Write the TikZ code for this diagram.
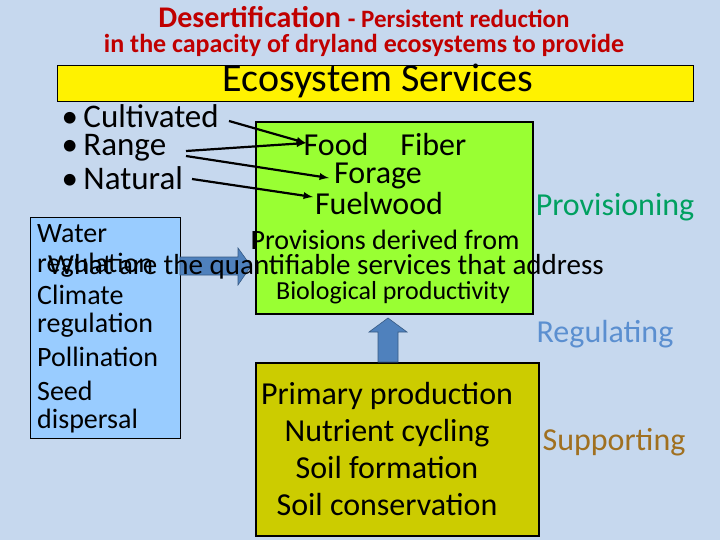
\documentclass[tikz,border=0pt]{standalone}
\usepackage{fontspec}
\setmainfont{Carlito}
\definecolor{bg}{HTML}{C6D8EE}
\definecolor{ttl}{HTML}{C00000}
\definecolor{grn}{HTML}{99FF33}
\definecolor{olv}{HTML}{CCCC00}
\definecolor{lblue}{HTML}{99CCFF}
\definecolor{arrb}{HTML}{4F81BD}
\definecolor{prov}{HTML}{00A060}
\definecolor{regc}{HTML}{5B8FD0}
\definecolor{supc}{HTML}{A07020}
\tikzset{fs/.style={font=\fontsize{#1}{#1}\selectfont},
 box/.style={draw=black,line width=2pt,anchor=north west,inner sep=0pt},
 lk/.style={-latex,line width=2.2pt},
 barrow/.style={draw=arrb!70!black,fill=arrb,line width=0.6pt}}
\begin{document}
\begin{tikzpicture}[x=1pt,y=-1pt]
\fill[bg] (0,0) rectangle (720,540);
\useasboundingbox (0,0) rectangle (720,540);
\node[fs=30,text=ttl] (t1) at (364,17) {\textbf{Desertification} \fontsize{25}{25}\selectfont\textbf{- Persistent reduction}};
\node[fs=26,text=ttl] (t2) at (364,45) {\textbf{in the capacity of dryland ecosystems to provide}};
\node[box,fill=yellow,line width=1pt,minimum width=636pt,minimum height=36pt] (ybox) at (57,65) {};
\node[fs=40] (es) at (378,81) {Ecosystem Services};
\node[box,fill=grn,minimum width=277pt,minimum height=192pt] (gbox) at (255,121) {};
\node[box,fill=olv,minimum width=283pt,minimum height=173pt] (obox) at (255,362) {};
\node[box,fill=lblue,line width=0.6pt,minimum width=150pt,minimum height=221pt] (bbox) at (30,217) {};
\node[fs=33,anchor=west] (cu) at (58,116) {\textbullet\,Cultivated};
\node[fs=33,anchor=west] (ra) at (58,148) {\textbullet\,Range};
\node[fs=33,anchor=west] (na) at (58,178) {\textbullet\,Natural};
\node[fs=32] (food) at (385,145) {Food\quad Fiber};
\node[fs=32] (forage) at (378,176) {Forage};
\node[fs=32] (fuel) at (379,204) {Fuelwood};
\coordinate (fo) at (306,143);
\coordinate (fg) at (329,178);
\coordinate (fw) at (313,197);
\draw[lk] (229,121) -- (fo);
\draw[lk] (186,151) -- (fo);
\draw[lk] (186,156) -- (fg);
\draw[lk] (192,179) -- (fw);
\node[fs=32,text=prov] (pv) at (615,207) {Provisioning};
\node[fs=32,text=regc] (rg) at (605,334) {Regulating};
\node[fs=32,text=supc] (sp) at (614,442) {Supporting};
\node[fs=28,anchor=north west,align=left,inner sep=0pt] (bt) at (37,224) {Water\\[2pt]regulation\\[4pt]Climate\\[0pt]regulation\\[6pt]Pollination\\[6pt]Seed\\[0pt]dispersal};
\draw[barrow] (180,257) -- (238,257) -- (238,248) -- (251,266) -- (238,285) -- (238,275) -- (180,275) -- cycle;
\draw[barrow] (378,362) -- (378,332) -- (369,332) -- (388,318) -- (407,332) -- (398,332) -- (398,362) -- cycle;
\node[fs=28] (pd) at (385,240) {Provisions derived from};
\node[fs=29] (wq) at (326,267) {What are the quantifiable services that address};
\node[fs=26] (bp) at (393,293) {Biological productivity};
\node[fs=32,align=center] (sup) at (387,449) {Primary production\\[5pt]Nutrient cycling\\[5pt]Soil formation\\[5pt]Soil conservation};
\end{tikzpicture}
\end{document}
